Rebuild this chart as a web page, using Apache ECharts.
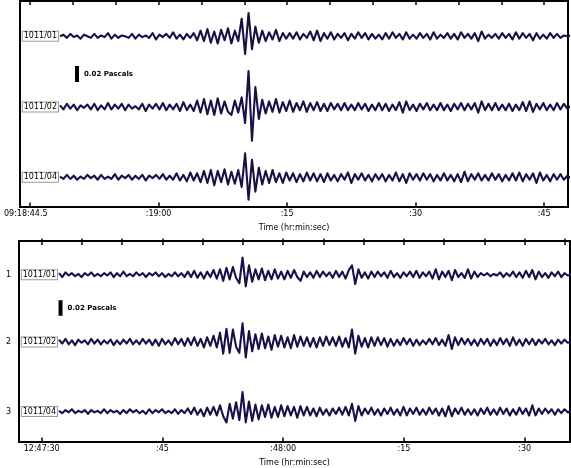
<!DOCTYPE html>
<html><head><meta charset="utf-8">
<script src="https://cdn.jsdelivr.net/npm/echarts@6/dist/echarts.min.js"></script>
<style>html,body{margin:0;padding:0;background:#fff}#c{width:571px;height:468px}</style>
</head><body><div id="c"></div><script>
// ---------- DATA ----------
const stationNames = ['1011/01', '1011/02', '1011/04'];
const rowNumbers = ['1', '2', '3'];
const sampleStep = 0.4;      // seconds between samples
const topStart = 48.5;       // seconds after 09:18:00
const bottomStart = 32.15;   // seconds after 12:47:00
// pressure traces in milli-Pascals
const topTrace1 = [
 0,2,-2,3,-1,1,-3,2,0,-2, 3,-2,1,-1,4,-3,2,-2,1,0, -2,3,-3,2,-1,1,-2,4,-4,2, -1,3,-2,5,-3,2,-4,3,-2,4,
 -5,7,-6,9,-8,6,-9,8,-5,10, -9,7,-6,22,-22,29,-16,12,-8,7, -6,5,-4,8,-6,4,-3,4,-3,5, -4,3,-2,6,-5,7,-6,4,-3,5,
 -4,3,-2,4,-5,3,-3,5,-2,4, -4,3,-3,2,-4,4,-3,5,-2,3, -4,5,-3,2,-3,4,-2,3,-4,5, -3,2,-2,4,-3,3,-4,5,-2,3,
 -3,4,-6,6,-3,2,-2,3,-3,4, -2,3,-4,5,-3,4,-2,3,-5,4, -3,2,-3,4,-2,3,-2,1,0,1
];
const topTrace2 = [
 2,-3,4,-2,3,-4,2,-1,3,-3, 4,-4,2,-3,5,-3,3,-2,4,-4, 3,-2,1,-3,4,-5,3,-2,4,-3, 5,-4,3,-3,4,-5,6,-4,3,-5,
 8,-7,10,-9,8,-10,11,-8,7,-6, -10,8,-7,12,-20,45,-42,25,-15,9, -8,7,-6,10,-7,6,-5,8,-6,5, -4,7,-6,5,-4,6,-5,4,-5,5,
 -3,4,-4,5,-4,3,-4,5,-3,4, -5,3,-4,5,-4,4,-5,3,-4,6, -7,7,-4,3,-5,4,-3,5,-4,3, -4,5,-4,3,-5,4,-3,5,-4,4,
 -3,5,-7,7,-4,4,-4,5,-4,3, -4,4,-5,3,-4,6,-5,7,-6,4, -3,5,-4,3,-4,5,-3,4,-2,1
];
const topTrace3 = [
 1,-2,3,-2,2,-3,1,-2,3,-1, 2,-3,3,-2,1,-2,4,-3,2,-1, 3,-3,2,-2,3,-4,2,-1,3,-2, 4,-3,2,-3,5,-4,3,-5,6,-4,
 5,-6,8,-7,9,-10,8,-6,10,-9, 7,-8,9,-12,30,-28,22,-18,12,-9, 8,-7,9,-6,5,-7,6,-4,5,-6, 4,-5,6,-4,5,-5,4,-6,5,-4,
 3,-5,4,-3,6,-7,4,-3,5,-4, 3,-5,4,-3,4,-5,3,-4,6,-5, 4,-7,5,-3,4,-4,5,-3,4,-5, 3,-4,5,-4,3,-5,4,-6,7,-5,
 4,-3,5,-4,3,-4,5,-3,4,-5, 3,-4,5,-4,6,-5,4,-3,5,-7, 6,-4,3,-5,4,-3,4,-3,2,-1
];
const bottomTrace1 = [
 2,-3,3,-1,2,-2,1,-3,2,-1, 3,-2,1,-2,2,-1,3,-3,2,-2, 4,-2,1,-2,3,-1,2,-3,2,-1, 3,-2,2,-3,1,-2,3,-2,2,
 -3,4,-3,5,-4,3,-5,4,-3,6, -5,7,-8,9,-6,10,-4,-11,22,-15, 12,-9,7,-6,8,-7,5,-6,7,-5, 4,-6,5,-4,6,-3,-8,4,-3,3,
 -4,5,-3,4,-2,3,-4,5,-3,4, -5,6,12,-12,7,-4,3,-5,4,-3, 4,-2,3,-4,5,-3,2,-4,3,-2, 4,-3,5,-4,3,-2,4,-5,7,-6,
 4,-3,5,-7,6,-3,2,-4,7,-5, 4,-3,2,-1,2,-2,1,-1,3,-3, 2,-2,4,-3,3,-4,5,-3,6,-6, 4,-3,2,-4,3,-2,4,-3,2,-1,0
];
const bottomTrace2 = [
 3,-2,4,-3,2,-4,3,-1,2,-3, 4,-2,3,-3,2,-2,3,-4,2,-3, 3,-2,4,-3,2,-3,4,-2,3,-4, 3,-5,4,-3,2,-4,5,-3,4,-5,
 5,-4,6,-5,4,-7,6,-5,8,-7, 12,-15,17,-14,16,-6,-14,24,-20,14, -12,10,-9,11,-8,7,-10,9,-6,8, -7,6,-8,9,-6,7,-5,6,-6,5,
 -7,6,-5,7,-4,6,-5,7,-6,5, -7,16,-15,8,-6,5,-7,6,-5,6, -4,5,-6,4,-5,3,-4,5,-3,4, -5,3,-4,2,-3,4,-3,5,-4,3,
 -5,9,-9,6,-4,5,-3,4,-4,3, -5,4,-3,4,-5,3,-4,5,-3,4, -5,6,-4,3,-5,4,-3,4,-4,3, -2,4,-3,2,-4,3,-2,3,-1,0
];
const bottomTrace3 = [
 1,-2,2,-1,3,-2,1,-1,2,-3, 2,-1,1,-2,3,-2,2,-1,1,-3, 2,-2,3,-1,2,-2,1,-3,3,-2, 2,-1,3,-2,1,-2,3,-3,2,-2,
 4,-3,5,-4,3,-6,5,-4,6,-5, 8,-6,-14,10,-9,12,-11,25,-14,13, -12,9,-10,8,-7,9,-8,6,-7,8, -6,7,-5,6,-8,7,-5,6,-5,4,
 -6,5,-4,3,-5,4,-3,5,-4,6, -5,10,-12,7,-5,4,-3,5,-4,3, -5,4,-3,5,-4,3,-5,6,-5,4, -3,5,-4,3,-4,5,-3,4,-5,4,
 -6,7,-6,4,-3,5,-4,3,-4,3, -5,4,-3,5,-4,3,-4,5,-3,4, -5,3,-4,5,-3,4,-5,8,-5,4, -3,4,-2,3,-4,3,-2,3,-1,0
];
const topTickValues = [45,50,55,60,65,70,75,80,85,90,95,100,105];
const topMajorTicks = [45,60,75,90,105];
const topLabelValues = [44.5,60,75,90,105];
const topLabelTexts = ['09:18:44.5', ':19:00', ':15', ':30', ':45'];
const bottomTickValues = [30,35,40,45,50,55,60,65,70,75,80,85,90,95];
const bottomMajorTicks = [30,45,60,75,90];
const bottomLabelValues = [30,45,60,75,90];
const bottomLabelTexts = ['12:47:30', ':45', ':48:00', ':15', ':30'];
const axisTitle = 'Time (hr:min:sec)';
const scaleBarPa = 0.02;
const scaleBarText = '0.02 Pascals';

// ---------- LAYOUT ----------
const FONT = 'DejaVu Sans';
const lineColor = '#1a1048';
const topOffsets = [-44.1, -132.5, -220.4];
const bottomOffsets = [-43.4, -130, -219.6];
const panels = [
  { grid: { left: 20, top: 1, right: 3, height: 206 }, xMin: 43.83, xMax: 107.78, yMin: -257.5,
    traces: [topTrace1, topTrace2, topTrace3], start: topStart, offsets: topOffsets,
    ticks: topTickValues, major: topMajorTicks, labVals: topLabelValues, labTxt: topLabelTexts,
    bar: { t: 50.48, y0: -81.25 }, rows: false },
  { grid: { left: 19, top: 241, right: 1, height: 207 }, xMin: 27.18, xMax: 95.63, yMin: -258.75,
    traces: [bottomTrace1, bottomTrace2, bottomTrace3], start: bottomStart, offsets: bottomOffsets,
    ticks: bottomTickValues, major: bottomMajorTicks, labVals: bottomLabelValues, labTxt: bottomLabelTexts,
    bar: { t: 32.34, y0: -76.25 }, rows: true }
];

const grid = [], xAxis = [], yAxis = [], series = [];
panels.forEach((p, gi) => {
  grid.push(Object.assign({ show: true, borderColor: '#000', borderWidth: 2, backgroundColor: 'transparent' }, p.grid));
  const base = { gridIndex: gi, type: 'value', min: p.xMin, max: p.xMax, axisLine: { show: false },
    splitLine: { show: false } };
  const xi = xAxis.length;
  xAxis.push(Object.assign({}, base, {
    position: 'bottom',
    axisTick: { show: true, inside: true, length: 2.5, customValues: p.ticks, lineStyle: { color: '#000', width: 1.5 } },
    axisLabel: { show: true, customValues: p.labVals, margin: 3, fontSize: 8, fontFamily: FONT, color: '#000',
      formatter: v => { const k = p.labVals.findIndex(a => Math.abs(a - v) < 1e-6); return k >= 0 ? p.labTxt[k] : ''; } },
    name: axisTitle, nameLocation: 'middle', nameGap: 17,
    nameTextStyle: { fontSize: 8, fontFamily: FONT, color: '#000' }
  }));
  xAxis.push(Object.assign({}, base, {
    position: 'bottom',
    axisTick: { show: true, inside: true, length: 4.5, customValues: p.major, lineStyle: { color: '#000', width: 1.5 } },
    axisLabel: { show: false }
  }));
  xAxis.push(Object.assign({}, base, {
    position: 'top',
    axisTick: { show: true, inside: true, length: 4, customValues: p.ticks, lineStyle: { color: '#000', width: 1.5 } },
    axisLabel: { show: false }
  }));
  yAxis.push({ gridIndex: gi, type: 'value', min: p.yMin, max: 0, axisLine: { show: false },
    axisTick: { show: false }, splitLine: { show: false },
    axisLabel: p.rows ? { show: true, customValues: p.offsets, margin: 8, fontSize: 8, fontFamily: FONT, color: '#000',
      formatter: v => { const k = p.offsets.findIndex(a => Math.abs(a - v) < 1e-6); return k >= 0 ? rowNumbers[k] : ''; } }
      : { show: false } });
  p.traces.forEach((tr, k) => {
    const off = p.offsets[k];
    series.push({
      type: 'line', xAxisIndex: xi, yAxisIndex: gi, showSymbol: false, smooth: false, animation: false,
      lineStyle: { color: lineColor, width: 2.1, join: 'round' }, silent: true,
      data: tr.map((v, i) => [p.start + i * sampleStep, v + off]),
      markPoint: { symbol: 'circle', symbolSize: 0, silent: true, animation: false,
        data: [{ coord: [p.start, off],
          label: { show: true, position: 'left', distance: 2, formatter: stationNames[k], fontSize: 8, fontFamily: FONT,
            color: '#000', backgroundColor: '#fff', borderColor: '#9a9a9a', borderWidth: 1, padding: [1, 1, 0, 1] } }] }
    });
  });
  // scale bar (0.02 Pa)
  const len = scaleBarPa * 1000;
  series.push({
    type: 'line', xAxisIndex: xi, yAxisIndex: gi, showSymbol: false, animation: false, silent: true,
    lineStyle: { color: '#000', width: 4, cap: 'butt' },
    data: [[p.bar.t, p.bar.y0], [p.bar.t, p.bar.y0 - len]],
    markPoint: { symbol: 'circle', symbolSize: 0, silent: true, animation: false,
      data: [{ coord: [p.bar.t, p.bar.y0 - len / 2],
        label: { show: true, position: 'right', distance: 7, formatter: scaleBarText,
          fontSize: 7, fontWeight: 'bold', fontFamily: FONT, color: '#000' } }] }
  });
});

const chart = echarts.init(document.getElementById('c'), null, { renderer: 'canvas' });
chart.setOption({ animation: false, grid, xAxis, yAxis, series });
</script></body></html>
